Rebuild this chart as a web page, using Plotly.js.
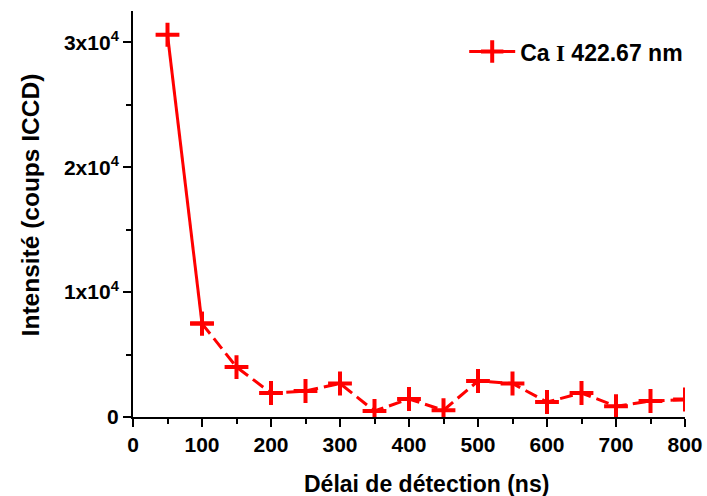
<!DOCTYPE html>
<html>
<head>
<meta charset="utf-8">
<script src="https://cdn.plot.ly/plotly-3.0.1.min.js"></script>
<style>html,body{margin:0;padding:0;background:#fff;}</style>
</head>
<body>
<div id="chart" style="width:707px;height:496px;"></div>
<script>
var delays = [50, 100, 150, 200, 250, 300, 350, 400, 450, 500, 550, 600, 650, 700, 750, 800];
var intensities = [30600, 7480, 4000, 1920, 2080, 2680, 480, 1440, 540, 2880, 2680, 1200, 1920, 860, 1280, 1400];
var xTickVals = [0, 100, 200, 300, 400, 500, 600, 700, 800];
var yTickVals = [0, 10000, 20000, 30000];
var yTickText = ['0', '1x10<sup>4</sup>', '2x10<sup>4</sup>', '3x10<sup>4</sup>'];
var xTitle = 'Délai de détection (ns)';
var yTitle = 'Intensité (coups ICCD)';
var seriesName = 'Ca <span style="font-family:\'Liberation Serif\',\'Times New Roman\',serif;">I</span> 422.67 nm';

var red = '#ff0000';
var font = 'Arial, "Liberation Sans", sans-serif';
var marker = {symbol: 'cross-thin', size: 17, color: red, line: {color: red, width: 4}};

var traces = [
  {x: delays.slice(0, 2), y: intensities.slice(0, 2), mode: 'lines+markers', name: seriesName,
   line: {color: red, width: 3}, marker: marker, showlegend: true, cliponaxis: true},
  {x: delays.slice(1), y: intensities.slice(1), mode: 'lines+markers', name: seriesName,
   line: {color: red, width: 3, dash: '13px,6px'}, marker: marker, showlegend: false, cliponaxis: true}
];

var layout = {
  width: 707, height: 496,
  margin: {l: 133, r: 22, t: 11, b: 79},
  paper_bgcolor: '#fff', plot_bgcolor: '#fff',
  font: {family: font, color: '#000', size: 21},
  showlegend: true,
  legend: {x: 0.6, y: 0.9, xanchor: 'left', yanchor: 'middle', bgcolor: 'rgba(0,0,0,0)',
           itemwidth: 46,
           font: {family: font, size: 23, color: '#000', weight: 'bold'}},
  xaxis: {
    range: [0, 800], showgrid: false, zeroline: false,
    showline: true, linecolor: '#000', linewidth: 2,
    ticks: 'outside', ticklen: 8, tickwidth: 2, tickcolor: '#000',
    tickvals: xTickVals,
    tickfont: {family: font, size: 21, color: '#000', weight: 'bold'},
    minor: {tickvals: [50,150,250,350,450,550,650,750], ticks: 'outside', ticklen: 5, tickwidth: 2, tickcolor: '#000'}
  },
  yaxis: {
    range: [0, 32500], showgrid: false, zeroline: false,
    showline: true, linecolor: '#000', linewidth: 2,
    ticks: 'outside', ticklen: 8, tickwidth: 2, tickcolor: '#000',
    tickvals: yTickVals, ticktext: yTickText,
    tickfont: {family: font, size: 21, color: '#000', weight: 'bold'},
    minor: {tickvals: [5000, 15000, 25000], ticks: 'outside', ticklen: 5, tickwidth: 2, tickcolor: '#000'}
  },
  annotations: [
    {text: xTitle, xref: 'paper', yref: 'paper', x: 0.531, y: -0.165, xanchor: 'center', yanchor: 'middle',
     showarrow: false, font: {family: font, size: 23, color: '#000', weight: 'bold'}},
    {text: yTitle, xref: 'paper', yref: 'paper', x: -0.186, y: 0.522, xanchor: 'center', yanchor: 'middle',
     textangle: -90, showarrow: false, font: {family: font, size: 24.5, color: '#000', weight: 'bold'}}
  ]
};

Plotly.newPlot('chart', traces, layout, {displayModeBar: false, staticPlot: true});
</script>
</body>
</html>
